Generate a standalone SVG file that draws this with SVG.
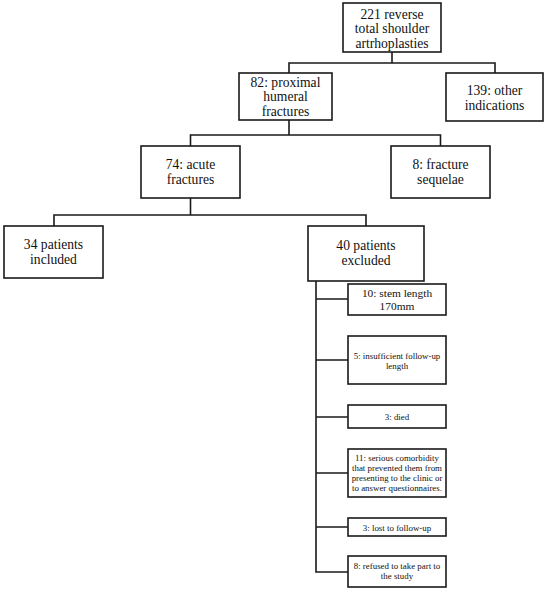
<svg xmlns="http://www.w3.org/2000/svg" width="550" height="592" viewBox="0 0 550 592">
<style>
.b{fill:#fff;stroke:#1a1a1a;stroke-width:1.6}
.c{fill:none;stroke:#1a1a1a;stroke-width:1.6}
text{font-family:"Liberation Serif","Times New Roman",serif;fill:#111;text-anchor:middle}
.L{font-size:13.6px}
.M{font-size:11.4px}
.S{font-size:8.9px}
</style>
<rect width="550" height="592" fill="#fff"/>
<g id="connectors">
<path class="c" d="M392 52V63M289 73V63H495V73"/>
<path class="c" d="M289 120V135M190.5 146V135H440.5V146"/>
<path class="c" d="M190.5 198V215M54 226V215H366V226"/>
<path class="c" d="M316 281V572H348M316 299H348M316 360H348M316 417H348M316 473H348M316 527H348"/>
</g>
<g id="n221"><rect class="b" x="343" y="3" width="98" height="49"/>
<text class="L" x="392" y="18.5">221 reverse</text><text class="L" x="392" y="33">total shoulder</text><text class="L" x="392" y="47.5">artrhoplasties</text></g>
<g id="n82"><rect class="b" x="239" y="73" width="93" height="47"/>
<text class="L" x="285.5" y="86.5">82: proximal</text><text class="L" x="285.5" y="101">humeral</text><text class="L" x="285.5" y="115.5">fractures</text></g>
<g id="n139"><rect class="b" x="446" y="73" width="97" height="48"/>
<text class="L" x="494.5" y="94.5">139: other</text><text class="L" x="494.5" y="109.5">indications</text></g>
<g id="n74"><rect class="b" x="141" y="146" width="99" height="52"/>
<text class="L" x="190.5" y="169">74: acute</text><text class="L" x="190.5" y="184">fractures</text></g>
<g id="n8"><rect class="b" x="391" y="146" width="99" height="52"/>
<text class="L" x="440.5" y="169">8: fracture</text><text class="L" x="440.5" y="184">sequelae</text></g>
<g id="n34"><rect class="b" x="4" y="226" width="99" height="52"/>
<text class="L" x="53.5" y="248.5">34 patients</text><text class="L" x="53.5" y="263.5">included</text></g>
<g id="n40"><rect class="b" x="308" y="226" width="116" height="55"/>
<text class="L" x="366" y="249.5">40 patients</text><text class="L" x="366" y="265">excluded</text></g>
<g id="e10"><rect class="b" x="348" y="284" width="98" height="31"/>
<text class="M" x="397" y="296.5">10: stem length</text><text class="M" x="397" y="309.5">170mm</text></g>
<g id="e5"><rect class="b" x="348" y="336" width="98" height="48"/>
<text class="S" x="397" y="358.5">5: insufficient follow-up</text><text class="S" x="397" y="368.5">length</text></g>
<g id="e3"><rect class="b" x="348" y="405" width="98" height="23"/>
<text class="S" x="397" y="419.5">3: died</text></g>
<g id="e11"><rect class="b" x="348" y="449" width="98" height="48"/>
<text class="S" x="397" y="461">11: serious comorbidity</text><text class="S" x="397" y="471">that prevented them from</text><text class="S" x="397" y="481">presenting to the clinic or</text><text class="S" x="397" y="491">to answer questionnaires.</text></g>
<g id="e3l"><rect class="b" x="348" y="518" width="98" height="18"/>
<text class="S" x="397" y="530.5">3: lost to follow-up</text></g>
<g id="e8"><rect class="b" x="348" y="556" width="98" height="31"/>
<text class="S" x="397" y="568.5">8: refused to take part to</text><text class="S" x="397" y="578.5">the study</text></g>
</svg>
